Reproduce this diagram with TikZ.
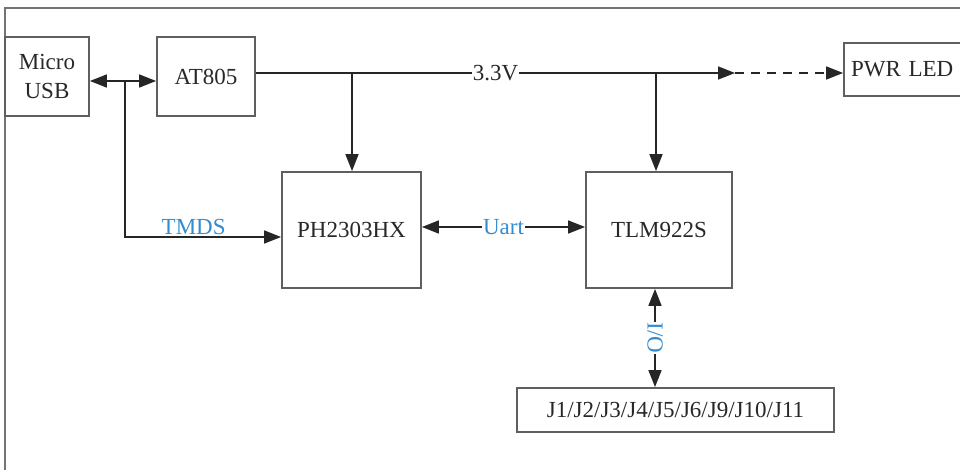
\documentclass[tikz,border=0pt]{standalone}
\usepackage{fontspec}
\setmainfont{Liberation Serif}
\usepackage{tikz}
\usetikzlibrary{arrows.meta,positioning,calc}
\definecolor{lblblue}{RGB}{52,140,208}
\definecolor{boxgray}{RGB}{95,95,95}
\definecolor{txtgray}{RGB}{40,40,40}

\begin{document}
\begin{tikzpicture}[x=1pt,y=-1pt,
    blk/.style={draw=boxgray,line width=1.8pt,fill=white,inner sep=0pt,
                font=\fontsize{23}{26}\selectfont,text=txtgray,align=center},
    arr/.style={line width=1.7pt,draw=black!85,-{Triangle[length=17pt,width=13pt]}},
    darr/.style={line width=1.7pt,draw=black!85,{Triangle[length=17pt,width=13pt]}-{Triangle[length=17pt,width=13pt]}},
    lbl/.style={font=\fontsize{23}{26}\selectfont,text=lblblue,inner sep=1pt,fill=white}]
  \useasboundingbox (0,0) rectangle (960,470);
  % outer frame
  \draw[line width=2.5pt,draw=black!55] (5,480) -- (5,8) -- (970,8);

  % blocks
  \node[blk,minimum width=84pt,minimum height=79pt] (usb) at (47,76.5) {Micro\\[3pt]USB};
  \node[blk,minimum width=98pt,minimum height=79pt] (at) at (206,76.5) {AT805};
  \node[blk,minimum width=139pt,minimum height=116pt] (ph) at (351.5,230) {PH2303HX};
  \node[blk,minimum width=146pt,minimum height=116pt] (tlm) at (659,230) {TLM922S};
  \node[blk,minimum width=126pt,minimum height=53pt,text width=112pt,align=left] (led) at (907,69.5) {PWR LED};
  \node[blk,minimum width=317pt,minimum height=44pt] (jx) at (675.5,410) {J1/J2/J3/J4/J5/J6/J9/J10/J11};

  % junction points
  \coordinate (jn) at (125,81);
  \coordinate (tm) at (125,237);
  \coordinate (vt) at (735,73);
  \coordinate (dp) at (352,73);
  \coordinate (dt) at (656,73);

  % usb / power
  \draw[arr] (jn) -- (usb.east |- jn);
  \draw[arr] (jn) -- (at.west |- jn);
  \draw[arr] (jn) -- (tm) -- (ph.west |- tm) node[lbl,pos=0.44,above=0pt,fill=none] {TMDS};
  \draw[arr] (at.east |- vt) -- (vt) node[pos=0.5,font=\fontsize{23}{26}\selectfont,text=txtgray,fill=white,inner sep=1pt] {3.3V};
  \draw[arr,dash pattern=on 9pt off 7pt] (vt) -- (led.west |- vt);
  \draw[arr] (dp) -- (ph.north -| dp);
  \draw[arr] (dt) -- (tlm.north -| dt);

  % data links
  \draw[darr] (ph.east |- 0,227) -- (tlm.west |- 0,227) node[lbl,midway] {Uart};
  \draw[darr] (tlm.south -| 655,0) -- (jx.north -| 655,0) node[lbl,midway,rotate=-90] {I/O};
\end{tikzpicture}
\end{document}
